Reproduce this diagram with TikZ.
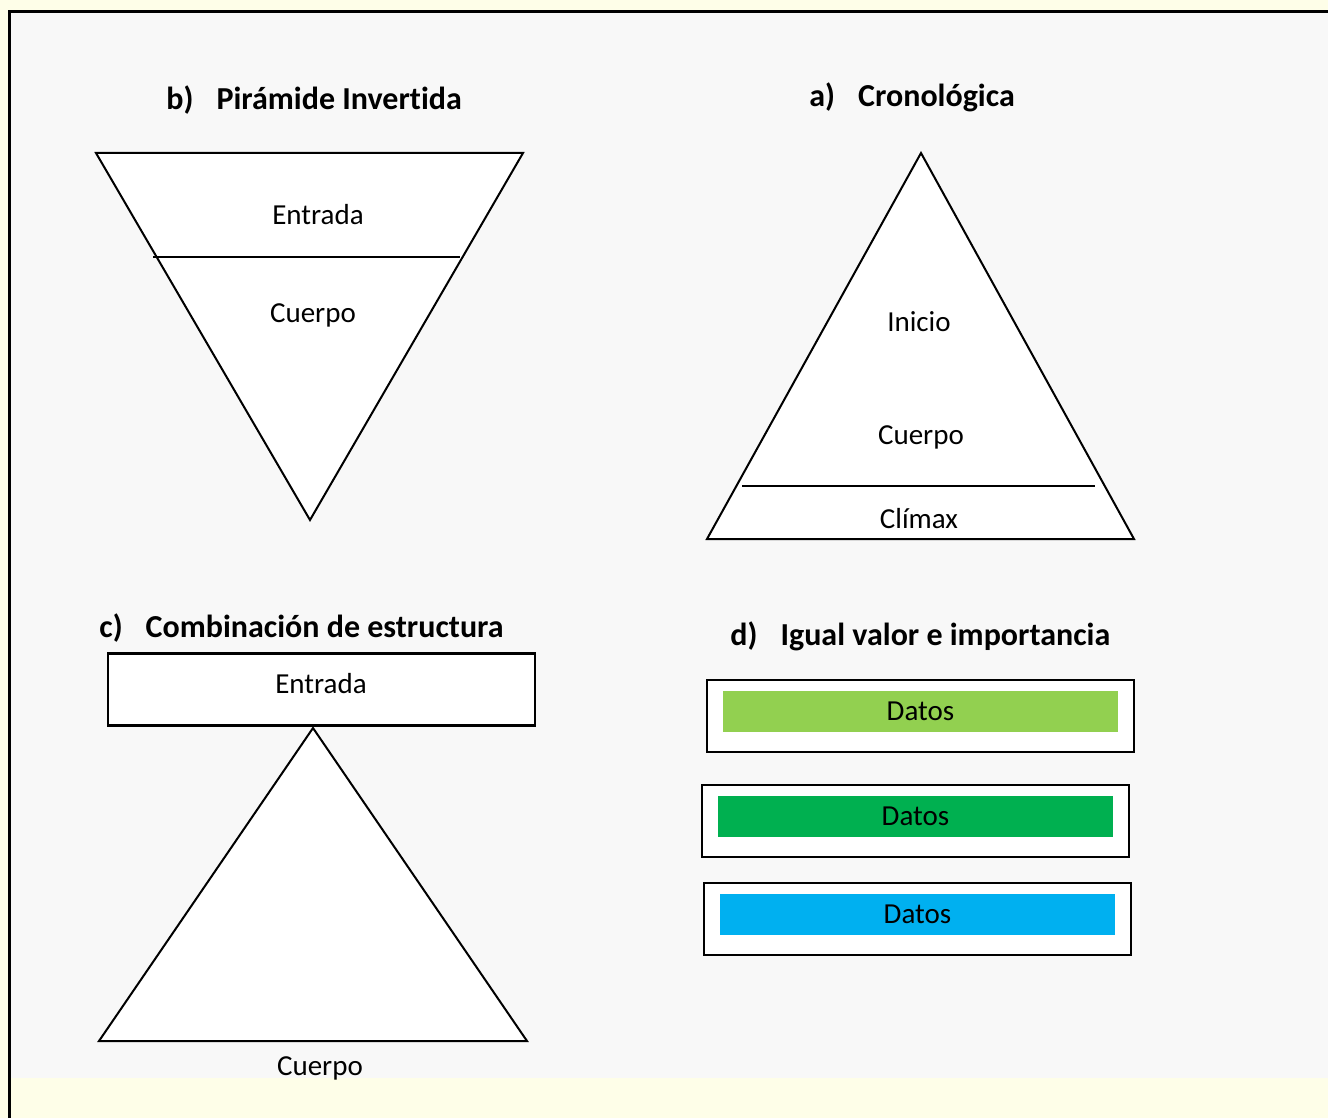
\documentclass[tikz,border=0pt]{standalone}
\usepackage{fontspec}
\setmainfont[Ligatures=NoCommon]{Carlito}
\usetikzlibrary{positioning}
\definecolor{paper}{HTML}{FEFEE8}
\definecolor{sheet}{HTML}{F8F8F8}
\definecolor{lightgreen}{HTML}{92D050}
\definecolor{darkgreen}{HTML}{00B050}
\definecolor{skyblue}{HTML}{00B0F0}

\begin{document}
\begin{tikzpicture}[x=0.5pt,y=-0.5pt,
    tlabel/.style={font=\fontsize{14.5}{17}\selectfont,inner sep=0pt},
    ttitle/.style={anchor=west,inner sep=0pt,font=\fontsize{16}{19}\selectfont\bfseries},
    shapeline/.style={draw=black,fill=white,line width=1pt},
    databox/.style={draw=black,fill=white,line width=1.2pt,minimum width=213.5pt,minimum height=36pt,inner sep=0pt},
    databar/.style={minimum width=197.5pt,minimum height=20.5pt,inner sep=0pt,font=\fontsize{14.5}{17}\selectfont},
  ]
  \useasboundingbox (0,0) rectangle (1328,1118);
  \fill[paper] (0,0) rectangle (1328,1118);
  \fill[sheet] (10,13) rectangle (1328,1078);
  \draw[line width=1.5pt] (9,1118) -- (9,12) -- (1328,12);

  % b) piramide invertida
  \node[ttitle] (titleb) at (166,100) {b)\hspace{11.5pt}Pirámide Invertida};
  \draw[shapeline] (96,153) -- (523,153) -- (310,520) -- cycle;
  \draw[line width=1pt] (153,257) -- (460,257);
  \node[tlabel] (entradab) at (318,215) {Entrada};
  \node[tlabel] (cuerpob) at (313,315) {Cuerpo};

  % a) cronologica
  \node[ttitle] (titlea) at (809,97) {a)\hspace{11.5pt}Cronológica};
  \draw[shapeline] (921,153) -- (1134,539) -- (707,539) -- cycle;
  \draw[line width=1pt] (742,486) -- (1095,486);
  \node[tlabel] (inicio) at (919,322) {Inicio};
  \node[tlabel] (cuerpoa) at (921,437) {Cuerpo};
  \node[tlabel] (climax) at (919,519) {Clímax};

  % c) combinacion
  \node[ttitle] (titlec) at (99,628) {c)\hspace{11.5pt}Combinación de estructura};
  \node[databox] (boxc) at (321.5,689.5) {};
  \node[tlabel] (entradac) at (321,684) {Entrada};
  \draw[shapeline] (313,728) -- (527,1041) -- (99,1041) -- cycle;
  \node[tlabel] (cuerpoc) at (320,1068) {Cuerpo};

  % d) igual valor
  \node[ttitle] (titled) at (730,636) {d)\hspace{11.5pt}Igual valor e importancia};
  \node[databox] (box1) at (920.5,716) {};
  \node[databar,fill=lightgreen] (bar1) at (920.5,711.5) {Datos};
  \node[databox] (box2) at (915.5,821) {};
  \node[databar,fill=darkgreen] (bar2) at (915.5,816.5) {Datos};
  \node[databox] (box3) at (917.5,919) {};
  \node[databar,fill=skyblue] (bar3) at (917.5,914.5) {Datos};
\end{tikzpicture}
\end{document}
